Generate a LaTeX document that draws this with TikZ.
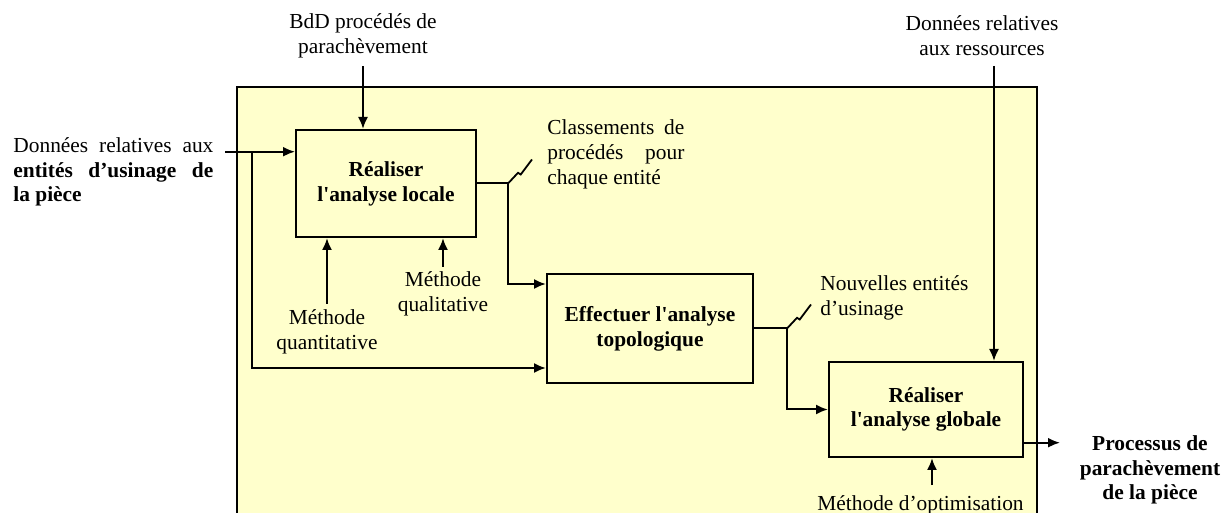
\documentclass[tikz,border=0pt]{standalone}
\usepackage{fontspec}
\setmainfont{Liberation Serif}
\usepackage{tikz}
\usetikzlibrary{arrows.meta}

\definecolor{boxfill}{HTML}{FFFFCC}
\newcommand{\fsz}{\fontsize{10.7}{12.4}\selectfont}

\tikzset{
  procbox/.style={draw,line width=1pt,fill=boxfill,font=\fsz\bfseries,
                  align=center,inner sep=0pt},
  lbl/.style={inner sep=0pt,align=center,font=\fsz},
  flow/.style={line width=1pt,-{Latex[length=6pt,width=5pt]}},
  zig/.style={line width=0.9pt}
}

\begin{document}
\begin{tikzpicture}[x=0.5pt,y=-0.5pt]
\useasboundingbox (0,0) rectangle (1222,513);
\fill[boxfill] (237,87) rectangle (1037,520);
\draw[line width=1pt] (237,520) -- (237,87) -- (1037,87) -- (1037,520);

\node[procbox,minimum width=90pt,minimum height=53.5pt] (locale)
      at (386,183.5) {Réaliser\\l\textquotesingle analyse locale};
\node[procbox,minimum width=103pt,minimum height=54.5pt] (topo)
      at (650,328.5) {Effectuer l\textquotesingle analyse\\topologique};
\node[procbox,minimum width=97pt,minimum height=47.5pt] (globale)
      at (926,409.5) {Réaliser\\l\textquotesingle analyse globale};

\node[lbl] (bdd) at (363,35.5) {BdD procédés de\\parachèvement};
\node[lbl] (ressources) at (982,35.5) {Données relatives\\aux ressources};
\node[lbl,anchor=west,text width=100pt,align=justify] (entites)
      at (13,172) {Données relatives aux\linebreak
      \textbf{entités d’usinage de}\linebreak \textbf{la pièce}};
\node[lbl,anchor=west,text width=68.5pt,align=justify] (classements)
      at (547,154.5) {Classements de\linebreak procédés pour\linebreak
      chaque entité};
\node[lbl,anchor=west,align=left] (nouvelles)
      at (820,297.5) {Nouvelles entités\\d’usinage};
\node[lbl] (quanti) at (327,331.5) {Méthode\\quantitative};
\node[lbl] (quali) at (443,293.5) {Méthode\\qualitative};
\node[lbl] (optim) at (920.5,505) {Méthode d’optimisation};
\node[lbl,font=\fsz\bfseries] (processus)
      at (1150,470) {Processus de\\parachèvement\\de la pièce};

\coordinate (entin) at (225,151.7);
\coordinate (split) at (252,151.7);
\coordinate (resin) at (994,66);
\coordinate (optin) at (932,485);
\coordinate (procout) at (1060,442.7);

\draw[flow,shorten <=4pt] (bdd.south) -- (bdd.south |- locale.north);
\draw[flow] (resin) -- (resin |- globale.north);
\draw[flow] (entin) -- (entin -| locale.west);
\draw[flow] (split) |- ([yshift=-19.75pt]topo.west);
\draw[flow] ([yshift=2.5pt]quanti.north) -- (quanti.north |- locale.south);
\draw[flow] ([yshift=2pt]quali.north) -- (quali.north |- locale.south);
\draw[flow] (locale.east) -- ++(31,0) coordinate (zz1)
            |- ([yshift=22.25pt]topo.west);
\draw[zig] (zz1) -- ++(10,-10.7) -- ++(2.7,1.7) -- ++(11.3,-15);
\draw[flow] (topo.east) -- ++(33,0) coordinate (zz2) |- (globale.west);
\draw[zig] (zz2) -- ++(10,-10.7) -- ++(2.7,1.7) -- ++(11.3,-15);
\draw[flow] (optin) -- (optin |- globale.south);
\draw[flow] (procout -| globale.east) -- (procout);
\end{tikzpicture}
\end{document}
